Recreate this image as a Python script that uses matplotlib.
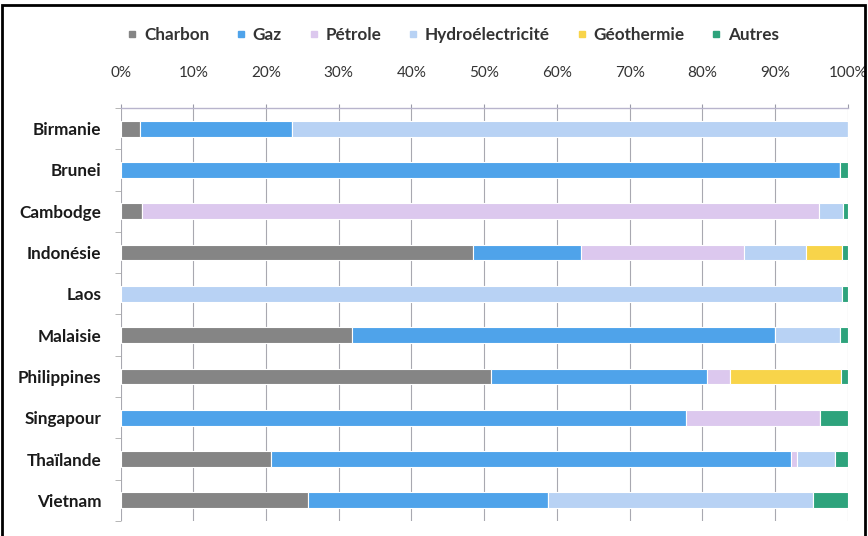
import matplotlib.pyplot as plt
from matplotlib.lines import Line2D
from matplotlib.patches import Rectangle
import numpy as np

plt.rcParams['font.family'] = ['Lato', 'DejaVu Sans']

pays = ["Birmanie", "Brunei", "Cambodge", "Indonésie", "Laos", "Malaisie",
        "Philippines", "Singapour", "Thaïlande", "Vietnam"]

# parts de la production électrique (%)
charbon = [2.7, 0.0, 3.0, 48.4, 0.0, 31.8, 50.9, 0.0, 20.7, 25.8]
gaz = [20.9, 98.9, 0.0, 14.9, 0.0, 58.2, 29.8, 77.8, 71.5, 33.0]
petrole = [0.0, 0.0, 93.0, 22.4, 0.0, 0.0, 3.1, 18.4, 0.8, 0.0]
hydro = [76.4, 0.0, 3.4, 8.6, 99.2, 9.0, 0.0, 0.0, 5.3, 36.4]
geothermie = [0.0, 0.0, 0.0, 4.9, 0.0, 0.0, 15.3, 0.0, 0.0, 0.0]
autres = [0.0, 1.1, 0.6, 0.8, 0.8, 1.0, 0.9, 3.8, 1.7, 4.8]

sources = ["Charbon", "Gaz", "Pétrole", "Hydroélectricité", "Géothermie", "Autres"]
couleurs = ["#858585", "#4fa3ea", "#dcc8ee", "#b8d2f4", "#f8d44a", "#2ea37c"]
series = [charbon, gaz, petrole, hydro, geothermie, autres]

fig = plt.figure(figsize=(8.68, 5.36), dpi=100)
ax = fig.add_axes([0.139, 0.028, 0.8376, 0.7705])

y = np.arange(len(pays))
gauche = np.zeros(len(pays))
for vals, col in zip(series, couleurs):
    vals = np.array(vals)
    ax.barh(y, vals, left=gauche, height=0.38, color=col,
            edgecolor="white", linewidth=0.8, zorder=3)
    gauche += vals

ax.set_xlim(0, 100)
ax.set_ylim(len(pays) - 0.5, -0.5)
ax.set_xticks(np.arange(0, 101, 10))
ax.set_xticklabels([f"{v}%" for v in range(0, 101, 10)])
ax.xaxis.tick_top()
ax.tick_params(axis="x", which="major", length=3, color="#9a9aa8",
               labelsize=11, labelcolor="#333333", pad=17)
ax.grid(axis="x", color="#a8a8b0", linewidth=0.8, zorder=0)

ax.set_yticks(y)
ax.set_yticklabels(pays, fontweight="bold", fontsize=12.3, color="#1a1a1a")
ax.set_yticks(np.arange(-0.5, len(pays), 1), minor=True)
ax.tick_params(axis="y", which="major", length=0, pad=14)
ax.tick_params(axis="y", which="minor", length=4, color="#aaaaaa")

for s in ["left", "right", "bottom"]:
    ax.spines[s].set_visible(False)
ax.spines["top"].set_color("#b8b4cc")
ax.spines["top"].set_linewidth(1.0)

handles = [Line2D([], [], marker="s", linestyle="", markersize=5,
                  markerfacecolor=c, markeredgecolor=c) for c in couleurs]
fig.legend(handles, sources, loc="center", bbox_to_anchor=(0.52, 0.935),
           ncol=6, frameon=False, handletextpad=0.2, columnspacing=1.35,
           handlelength=1.0, prop={"weight": "bold", "size": 12.3},
           labelcolor="#333333")

fig.patches.append(Rectangle((0.002, -0.05), 0.995, 1.04, transform=fig.transFigure,
                             fill=False, edgecolor="black", linewidth=2))

fig.savefig("out.png", dpi=100, facecolor="white")
